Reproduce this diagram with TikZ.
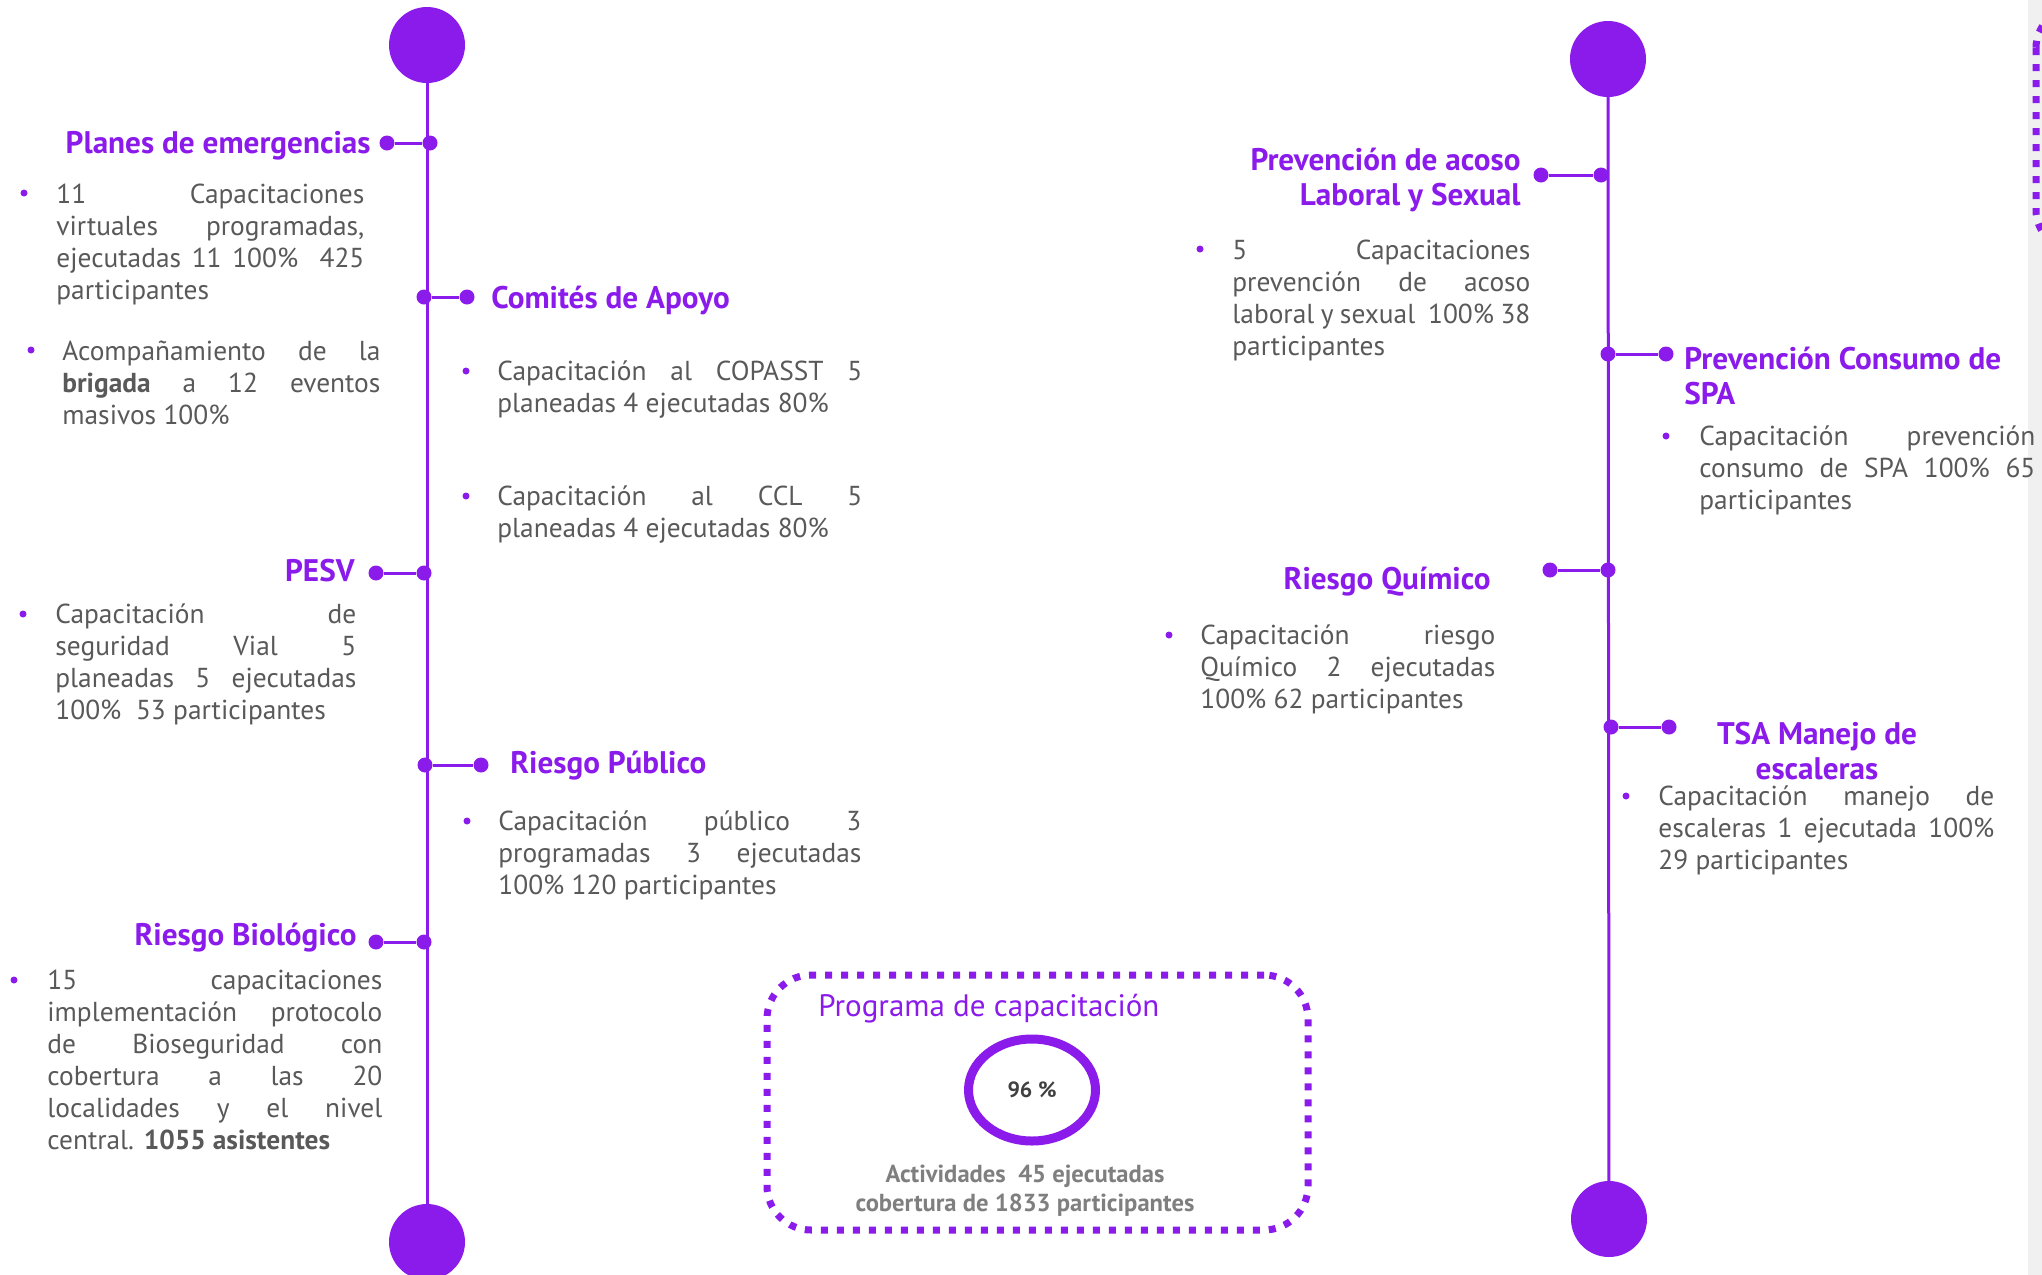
\documentclass[tikz,border=0pt]{standalone}
\usepackage{fontspec}
\setmainfont{PT Sans}
\usetikzlibrary{shapes.geometric}
\definecolor{vio}{RGB}{138,27,235}
\definecolor{txt}{RGB}{89,89,89}
\definecolor{lightg}{RGB}{127,127,127}
\definecolor{darkg}{RGB}{64,64,64}
\definecolor{stripgray}{RGB}{240,240,240}
\newcommand{\jl}[1]{\makebox[\linewidth][s]{#1}\\}
\newcommand{\bodypar}[2]{\parbox[t]{#1}{#2}}
\begin{document}
\begin{tikzpicture}[x=0.5pt,y=-0.5pt,
  bigdot/.style={circle,fill=vio,inner sep=0pt,minimum size=38pt},
  smalldot/.style={circle,fill=vio,inner sep=0pt,minimum size=7.5pt},
  spine/.style={draw=vio,line width=1.5pt},
  branch/.style={draw=vio,line width=1.5pt},
  head/.style={text=vio,font=\fontsize{15.6}{17.5}\selectfont\bfseries,inner sep=0pt},
  body/.style={text=txt,font=\fontsize{13.7}{16}\selectfont,inner sep=0pt,anchor=base west},
  bul/.style={fill=vio},
  dotbox/.style={draw=vio,line width=3.5pt,dash pattern=on 3.5pt off 4.5pt}
]
\useasboundingbox (0,0) rectangle (2042,1275);
\clip (0,0) rectangle (2042,1275);
\fill[white] (0,0) rectangle (2042,1275);
\fill[stripgray] (2028,0) rectangle (2042,1275);
\draw[dotbox,rounded corners=20pt] (2036,8) rectangle (2400,250);

% ---------------- left timeline ----------------
\node[bigdot] (lTop) at (427,45) {};
\node[bigdot] (lBot) at (427,1242) {};
\draw[spine] (lTop.center) -- (lBot.center);

% Planes de emergencias
\node[smalldot] (pA) at (387,143) {};
\node[smalldot] (pB) at (430,143) {};
\draw[branch] (pA) -- (pB);
\node[head,anchor=mid east] (hPlanes) at (371,148) {Planes de emergencias};
\fill[bul] (24,193) circle (1.75pt);
\node[body] (bPlanes) at (56,203) {\bodypar{154pt}{\jl{11 Capacitaciones}\jl{virtuales programadas,}\jl{ejecutadas 11 100\% \ 425}participantes}};
\fill[bul] (31,350) circle (1.75pt);
\node[body] (bBrig) at (62,360) {\bodypar{159pt}{\jl{Acompañamiento de la}\jl{\textbf{brigada} a 12 eventos}masivos 100\%}};

% Comités de Apoyo
\node[smalldot] (cA) at (424,297) {};
\node[smalldot] (cB) at (467,297) {};
\draw[branch] (cA) -- (cB);
\node[head,anchor=mid west] (hComites) at (491,303) {Comités de Apoyo};
\fill[bul] (466,371) circle (1.75pt);
\node[body] (bCopasst) at (497,380) {\bodypar{182.5pt}{\jl{Capacitación al COPASST 5}planeadas 4 ejecutadas 80\%}};
\fill[bul] (466,496) circle (1.75pt);
\node[body] (bCcl) at (497,505) {\bodypar{182.5pt}{\jl{Capacitación al CCL 5}planeadas 4 ejecutadas 80\%}};

% PESV
\node[smalldot] (vA) at (376,573) {};
\node[smalldot] (vB) at (424,573) {};
\draw[branch] (vA) -- (vB);
\node[head,anchor=mid east] (hPesv) at (355,576) {PESV};
\fill[bul] (23,614) circle (1.75pt);
\node[body] (bPesv) at (55,623) {\bodypar{150.5pt}{\jl{Capacitación de}\jl{seguridad Vial 5}\jl{planeadas 5 ejecutadas}100\%\ \ 53 participantes}};

% Riesgo Público
\node[smalldot] (uA) at (425,765) {};
\node[smalldot] (uB) at (481,765) {};
\draw[branch] (uA) -- (uB);
\node[head,anchor=mid west] (hPublico) at (510,768) {Riesgo Público};
\fill[bul] (467,821) circle (1.75pt);
\node[body] (bPublico) at (498,830) {\bodypar{181.5pt}{\jl{Capacitación público 3}\jl{programadas 3 ejecutadas}100\% 120 participantes}};

% Riesgo Biológico
\node[smalldot] (gA) at (376,942) {};
\node[smalldot] (gB) at (424,942) {};
\draw[branch] (gA) -- (gB);
\node[head,anchor=mid east] (hBio) at (357,940) {Riesgo Biológico};
\fill[bul] (14,980) circle (1.75pt);
\node[body] (bBio) at (47,989) {\bodypar{167.5pt}{\jl{15 capacitaciones}\jl{implementación protocolo}\jl{de Bioseguridad con}\jl{cobertura a las 20}\jl{localidades y el nivel}central. \textbf{1055 asistentes}}};

% ---------------- programa box ----------------
\node[dotbox,rectangle,rounded corners=22pt,minimum width=270.5pt,minimum height=127.5pt] (prog) at (1037.5,1102.5) {};
\node[text=vio,font=\fontsize{15.5}{17.5}\selectfont,inner sep=0pt,anchor=mid west] (progT) at (818,1011) {Programa de capacitación};
\node[ellipse,draw=vio,line width=4.5pt,minimum width=63.5pt,minimum height=51pt,inner sep=0pt,text=darkg,font=\fontsize{11}{13}\selectfont\bfseries] (ring) at (1032,1090) {96 \%};
\node[text=lightg,font=\fontsize{12.3}{14.5}\selectfont\bfseries,align=center,inner sep=0pt] (progB) at (1025,1191) {Actividades\ \ 45 ejecutadas\\cobertura de 1833 participantes};

% ---------------- right timeline ----------------
\node[bigdot] (rTop) at (1608,59) {};
\node[bigdot] (rBot) at (1609,1219) {};
\draw[spine] (rTop.center) -- (rBot.center);

% Prevención de acoso
\node[smalldot] (aA) at (1541,175) {};
\node[smalldot] (aB) at (1601,175) {};
\draw[branch] (aA) -- (aB);
\node[head,anchor=east,align=right] (hAcoso) at (1521,180) {Prevención de acoso\\Laboral y Sexual};
\fill[bul] (1200,249) circle (1.75pt);
\node[body] (bAcoso) at (1232,259) {\bodypar{149pt}{\jl{5 Capacitaciones}\jl{prevención de acoso}\jl{laboral y sexual\ \ 100\% 38}participantes}};

% Prevención Consumo de SPA
\node[smalldot] (sA) at (1608,354) {};
\node[smalldot] (sB) at (1666,354) {};
\draw[branch] (sA) -- (sB);
\node[head,anchor=west,align=left] (hSpa) at (1684,376) {Prevención Consumo de\\SPA};
\fill[bul] (1666,436) circle (1.75pt);
\node[body] (bSpa) at (1699,445) {\bodypar{168pt}{\jl{Capacitación prevención}\jl{consumo de SPA 100\% 65}participantes}};

% Riesgo Químico
\node[smalldot] (qA) at (1550,570) {};
\node[smalldot] (qB) at (1608,570) {};
\draw[branch] (qA) -- (qB);
\node[head,anchor=mid east] (hQuim) at (1491,584) {Riesgo Químico};
\fill[bul] (1169,635) circle (1.75pt);
\node[body] (bQuim) at (1200,644) {\bodypar{147.5pt}{\jl{Capacitación riesgo}\jl{Químico 2 ejecutadas}100\% 62 participantes}};

% TSA Manejo de escaleras
\node[smalldot] (tA) at (1611,727) {};
\node[smalldot] (tB) at (1669,727) {};
\draw[branch] (tA) -- (tB);
\node[head,align=center] (hTsa) at (1817,751) {TSA Manejo de\\escaleras};
\fill[bul] (1626,796) circle (1.75pt);
\node[body] (bTsa) at (1658,805) {\bodypar{168pt}{\jl{Capacitación manejo de}\jl{escaleras 1 ejecutada 100\%}29 participantes}};
\end{tikzpicture}
\end{document}
